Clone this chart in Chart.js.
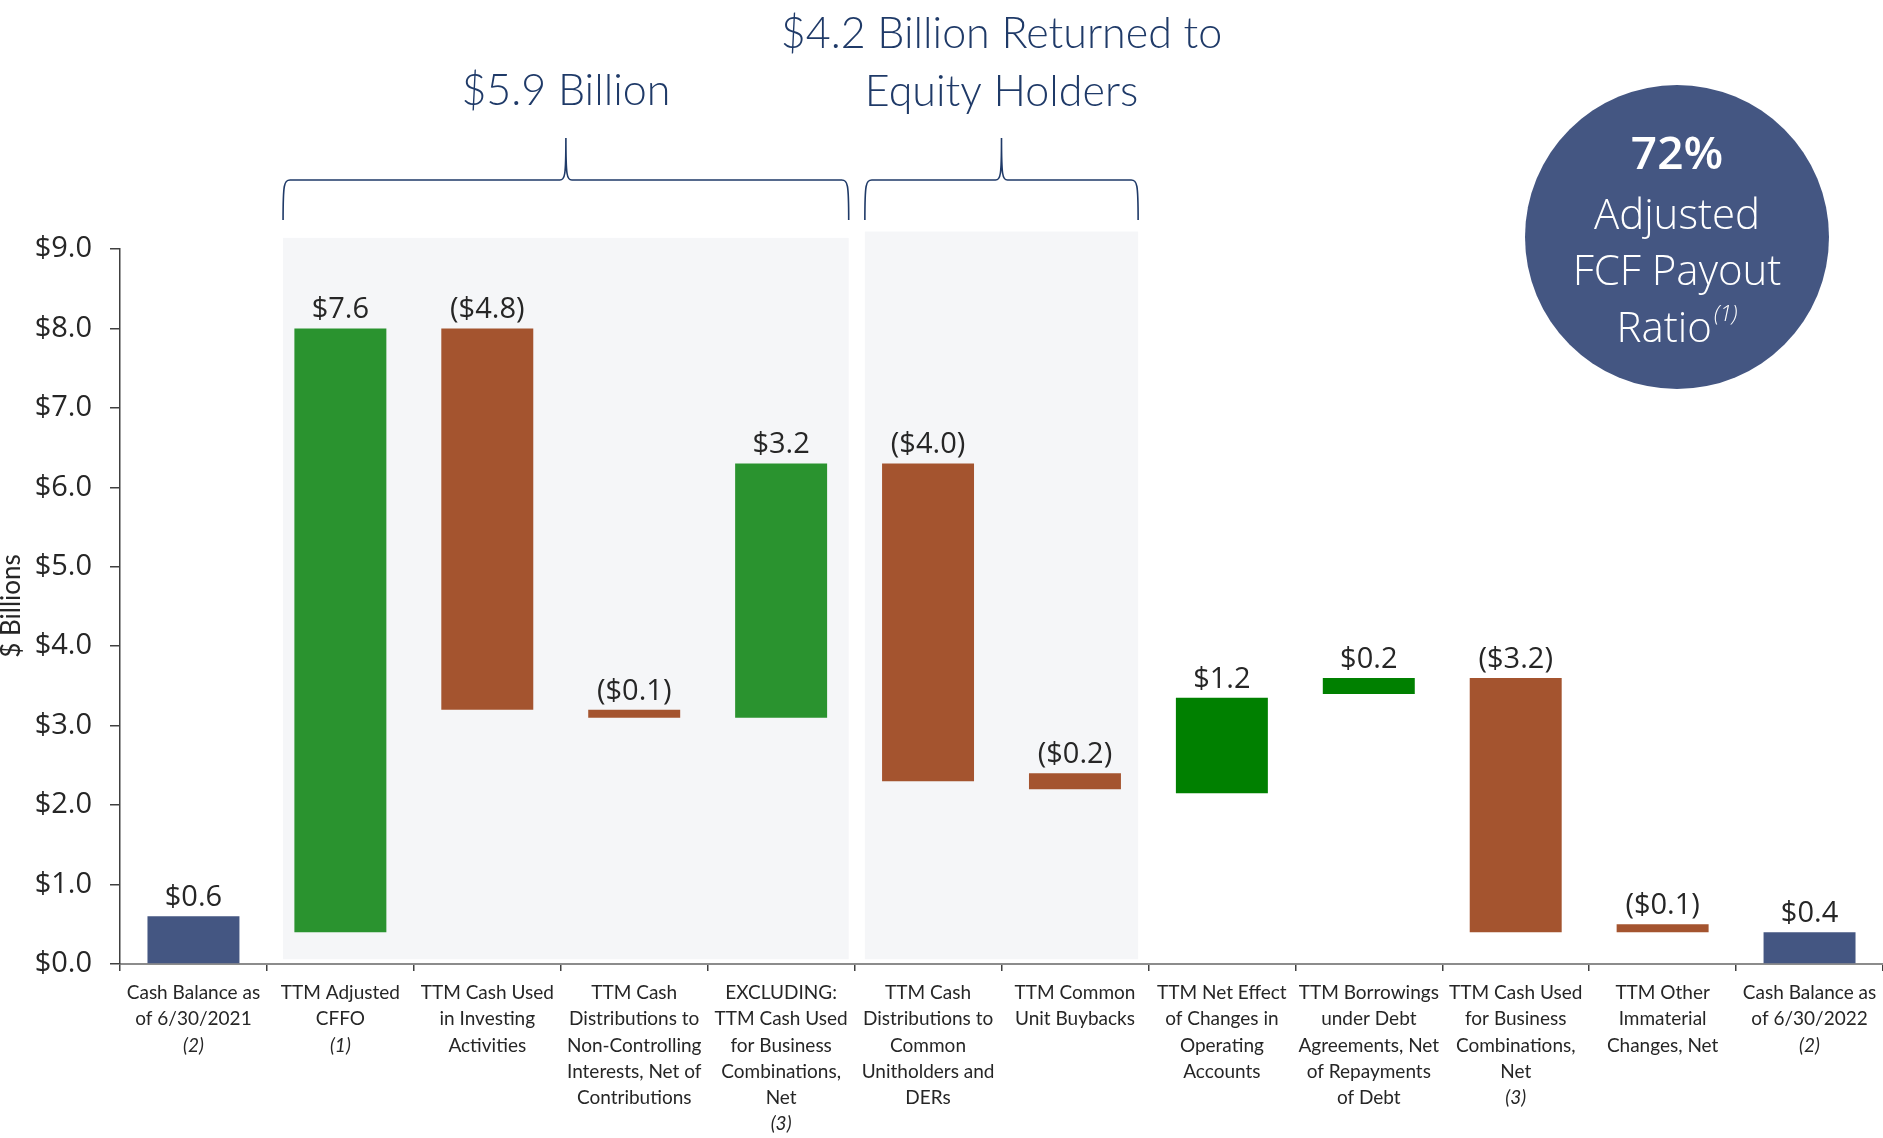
<!DOCTYPE html>
<html>
<head>
<meta charset="utf-8">
<title>Cash Flow Bridge</title>
<script src="https://cdn.jsdelivr.net/npm/chart.js@4.4.1/dist/chart.umd.min.js"></script>
<style>
  html, body { margin: 0; padding: 0; background: #ffffff; }
  #wrap { position: relative; width: 1883px; height: 1138px; }
  canvas { display: block; }
</style>
</head>
<body>
<div id="wrap"><canvas id="chart" width="1883" height="1138"></canvas></div>
<script>
// Category names, one entry per bar (multi-line labels)
const categories = [
  ['Cash Balance as', 'of 6/30/2021'],
  ['TTM Adjusted', 'CFFO'],
  ['TTM Cash Used', 'in Investing', 'Activities'],
  ['TTM Cash', 'Distributions to', 'Non-Controlling', 'Interests, Net of', 'Contributions'],
  ['EXCLUDING:', 'TTM Cash Used', 'for Business', 'Combinations,', 'Net'],
  ['TTM Cash', 'Distributions to', 'Common', 'Unitholders and', 'DERs'],
  ['TTM Common', 'Unit Buybacks'],
  ['TTM Net Effect', 'of Changes in', 'Operating', 'Accounts'],
  ['TTM Borrowings', 'under Debt', 'Agreements, Net', 'of Repayments', 'of Debt'],
  ['TTM Cash Used', 'for Business', 'Combinations,', 'Net'],
  ['TTM Other', 'Immaterial', 'Changes, Net'],
  ['Cash Balance as', 'of 6/30/2022']
];
// Footnote markers printed in italics under each category name
const footnotes = ['(2)', '(1)', '', '', '(3)', '', '', '', '', '(3)', '', '(2)'];

// Change in $ billions for each step (negative = cash out)
const changes = [0.6, 7.6, -4.8, -0.1, 3.2, -4.0, -0.2, 1.2, 0.2, -3.2, -0.1, 0.4];
// Level (in $ billions) where each step starts
const startLevels = [0, 0.4, 8.0, 3.2, 3.1, 6.3, 2.4, 2.15, 3.4, 3.6, 0.5, 0];
// Kind of step: balance, inflow (light / dark green), outflow
const stepKinds = ['balance', 'inflow', 'outflow', 'outflow', 'inflow', 'outflow',
                   'outflow', 'inflow2', 'inflow2', 'outflow', 'outflow', 'balance'];

// Y-axis tick values
const yTicks = [0, 1, 2, 3, 4, 5, 6, 7, 8, 9];

const kindColors = {
  balance: '#445682',
  inflow: '#2a932f',
  inflow2: '#008000',
  outflow: '#a4542f'
};

const bars = changes.map((c, i) => [startLevels[i], startLevels[i] + c]);
const money = v => {
  const s = '$' + Math.abs(v).toFixed(1);
  return v < 0 ? '(' + s + ')' : s;
};

const NAVY = '#1f3a68';
const TEXT = '#262626';

// Shaded bracket groups: [from, to] in category units, plus header text
const groups = [
  { from: 0.61, to: 4.46, top: 9.14, lines: ['$5.9 Billion'], lineY: [91] },
  { from: 4.57, to: 6.43, top: 9.22, lines: ['$4.2 Billion Returned to', 'Equity Holders'], lineY: [34, 92] }
];

const decorPlugin = {
  id: 'decor',
  beforeDatasetsDraw(chart) {
    const { ctx, scales: { x, y } } = chart;
    const catW = x.getPixelForValue(1) - x.getPixelForValue(0);
    const px = v => x.getPixelForValue(0) + v * catW;
    ctx.save();
    ctx.fillStyle = '#f5f6f8';
    groups.forEach(g => {
      const l = px(g.from), r = px(g.to);
      const t = y.getPixelForValue(g.top), b = y.getPixelForValue(0.06);
      ctx.fillRect(l, t, r - l, b - t);
    });
    ctx.restore();
  },
  afterDatasetsDraw(chart) {
    const { ctx, scales: { y } } = chart;
    const meta = chart.getDatasetMeta(0);
    ctx.save();
    ctx.fillStyle = TEXT;
    ctx.font = '29px "Open Sans"';
    ctx.textAlign = 'center';
    ctx.textBaseline = 'bottom';
    meta.data.forEach((el, i) => {
      const top = y.getPixelForValue(Math.max(bars[i][0], bars[i][1]));
      ctx.fillText(money(changes[i]), el.x, top - 4);
    });
    ctx.restore();
  },
  afterDraw(chart) {
    const { ctx, scales: { x } } = chart;
    const catW = x.getPixelForValue(1) - x.getPixelForValue(0);
    const px = v => x.getPixelForValue(0) + v * catW;

    ctx.save();
    // Category labels under the axis
    ctx.fillStyle = TEXT;
    ctx.textAlign = 'center';
    ctx.textBaseline = 'middle';
    const lh = 26.2;
    const y0 = 993;
    categories.forEach((lines, i) => {
      const cx = x.getPixelForValue(i);
      ctx.font = '19px Lato';
      lines.forEach((ln, k) => ctx.fillText(ln, cx, y0 + k * lh));
      if (footnotes[i]) {
        ctx.font = 'italic 19px Lato';
        ctx.fillText(footnotes[i], cx, y0 + lines.length * lh);
      }
    });

    // Axis title
    ctx.save();
    ctx.translate(12, 606);
    ctx.rotate(-Math.PI / 2);
    ctx.font = '26px Lato';
    ctx.fillStyle = TEXT;
    ctx.fillText('$ Billions', 0, 0);
    ctx.restore();

    // Curly brackets and their headers
    ctx.strokeStyle = NAVY;
    ctx.lineWidth = 1.6;
    groups.forEach(g => {
      const l = px(g.from), r = px(g.to), m = (l + r) / 2;
      const yb = 220, yh = 180, yp = 138;
      ctx.beginPath();
      ctx.moveTo(l, yb);
      ctx.bezierCurveTo(l, yh + 4, l + 1, yh, l + 7, yh);
      ctx.lineTo(m - 6, yh);
      ctx.bezierCurveTo(m - 1, yh, m, yh - 4, m, yp);
      ctx.bezierCurveTo(m, yh - 4, m + 1, yh, m + 6, yh);
      ctx.lineTo(r - 7, yh);
      ctx.bezierCurveTo(r - 1, yh, r, yh + 4, r, yb);
      ctx.stroke();

      ctx.fillStyle = NAVY;
      ctx.font = '300 43px Lato';
      ctx.textAlign = 'center';
      ctx.textBaseline = 'middle';
      g.lines.forEach((t, k) => ctx.fillText(t, m, g.lineY[k]));
    });

    // Payout ratio badge
    const cx = 1677, cy = 237, rad = 152;
    ctx.fillStyle = '#445682';
    ctx.beginPath();
    ctx.arc(cx, cy, rad, 0, Math.PI * 2);
    ctx.fill();
    ctx.fillStyle = '#ffffff';
    ctx.textAlign = 'center';
    ctx.textBaseline = 'middle';
    ctx.font = '600 46px "Open Sans"';
    ctx.fillText('72%', cx, 156);
    ctx.font = '300 42px "Open Sans"';
    ctx.fillText('Adjusted', cx, 217);
    ctx.fillText('FCF Payout', cx, 273);
    const ratioW = ctx.measureText('Ratio').width;
    ctx.font = 'italic 300 22px "Open Sans"';
    const supW = ctx.measureText('(1)').width;
    const startX = cx - (ratioW + supW + 2) / 2;
    ctx.textAlign = 'left';
    ctx.font = '300 42px "Open Sans"';
    ctx.fillText('Ratio', startX, 330);
    ctx.font = 'italic 300 22px "Open Sans"';
    ctx.fillText('(1)', startX + ratioW + 2, 315);
    ctx.restore();
  }
};

new Chart(document.getElementById('chart'), {
  type: 'bar',
  data: {
    labels: categories,
    datasets: [{
      data: bars,
      backgroundColor: stepKinds.map(k => kindColors[k]),
      borderWidth: 0,
      barPercentage: 0.626,
      categoryPercentage: 1.0
    }]
  },
  options: {
    responsive: false,
    animation: false,
    events: [],
    layout: { padding: { top: 249, left: 0, right: 0, bottom: 167 } },
    plugins: {
      legend: { display: false },
      tooltip: { enabled: false },
      title: { display: false }
    },
    scales: {
      x: {
        type: 'category',
        offset: true,
        border: { display: true, color: '#8c8c8c', width: 2 },
        grid: { offset: true, drawOnChartArea: false, drawTicks: true, tickLength: 7, color: '#404040', lineWidth: 1.5 },
        ticks: { display: false }
      },
      y: {
        min: 0,
        max: 9,
        afterFit: s => { s.width = 120; },
        afterBuildTicks: s => { s.ticks = yTicks.map(v => ({ value: v })); },
        border: { display: true, color: '#404040', width: 1.5 },
        grid: { drawOnChartArea: false, drawTicks: true, tickLength: 10, color: '#404040', lineWidth: 1.5 },
        ticks: {
          padding: 18,
          color: TEXT,
          font: { family: '"Open Sans"', size: 29 },
          callback: v => '$' + Number(v).toFixed(1)
        }
      }
    }
  },
  plugins: [decorPlugin]
});
</script>
</body>
</html>
